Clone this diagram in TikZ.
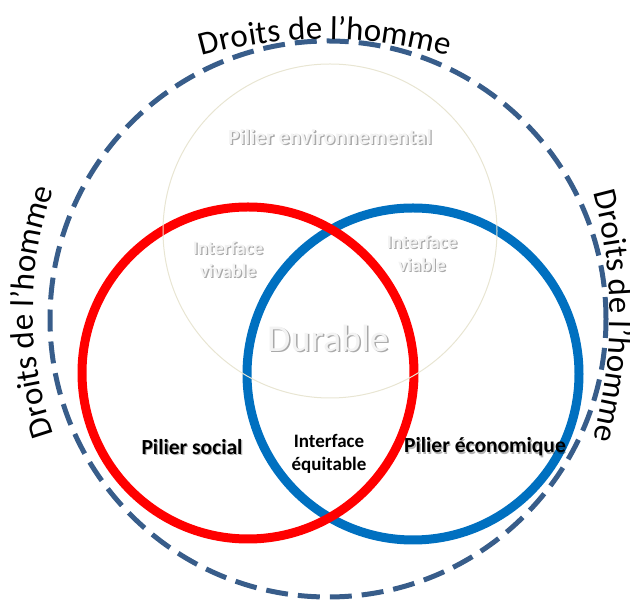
\documentclass[tikz,border=0pt]{standalone}
\usepackage{fontspec}
\setmainfont{Carlito}
\usetikzlibrary{decorations.text}
\definecolor{dashblue}{RGB}{56,93,138}
\definecolor{vred}{RGB}{255,0,0}
\definecolor{vblue}{RGB}{0,112,192}
\definecolor{faintline}{RGB}{232,229,210}
\definecolor{ghost}{RGB}{243,243,243}
\definecolor{ghostshade}{RGB}{140,140,140}
\begin{document}
\begin{tikzpicture}[x=1pt,y=1pt,
  ring/.style={line width=9pt},
  pillar/.style={font=\bfseries\fontsize{21.5}{23}\selectfont, align=center, inner sep=0pt},
  iface/.style={font=\bfseries\fontsize{19}{22.5}\selectfont, align=center, inner sep=0pt},
  ghosttxt/.style={text=ghost},
  ghostshadow/.style={text=ghostshade, opacity=0.75},
  blackshadow/.style={text=black, opacity=0.3},
  arch/.style={decorate, decoration={text along path, text align=center,
     text={|\fontsize{33}{40}\selectfont|Droits de l’homme}}}
]
\useasboundingbox (0,0) rectangle (630,602);
% rings
\draw[ring, vblue] (413,228) circle[radius=166pt];
\draw[ring, vred] (248,229) circle[radius=166pt];
\draw[line width=1pt, faintline] (330,371) circle[radius=167pt];
\draw[line width=5pt, dashblue, dash pattern=on 22pt off 10pt] (328,283) circle[radius=278pt];
% arched labels
\path[arch] (325,109) ++(110:454pt) arc[start angle=110, end angle=70, radius=454pt];
\path[arch] (403,290) ++(205:370pt) arc[start angle=205, end angle=155, radius=370pt];
\path[arch] (150,286) ++(20:460pt) arc[start angle=20, end angle=-20, radius=460pt];
% ghost labels
\node[pillar, ghostshadow] (envS) at (331.3,463.7) {Pilier environnemental};
\node[pillar, ghosttxt] (env) at (330,465) {Pilier environnemental};
\node[iface, ghostshadow] (vivS) at (229.2,341.3) {Interface\\vivable};
\node[iface, ghosttxt] (viv) at (228,342.5) {Interface\\vivable};
\node[iface, ghostshadow] (viaS) at (423.2,347.3) {Interface\\viable};
\node[iface, ghosttxt] (via) at (422,348.5) {Interface\\viable};
\node[font=\fontsize{38}{40}\selectfont, inner sep=0pt, ghostshadow] (durS) at (329.5,262.5) {Durable};
\node[font=\fontsize{38}{40}\selectfont, inner sep=0pt, ghosttxt] (dur) at (328,264) {Durable};
% black labels
\node[pillar, blackshadow] (socS) at (193.2,153.8) {Pilier social};
\node[pillar] (soc) at (192,155) {Pilier social};
\node[pillar, blackshadow] (ecoS) at (486.2,153.8) {Pilier économique};
\node[pillar] (eco) at (485,155) {Pilier économique};
\node[iface] (equ) at (329,148) {Interface\\équitable};
\end{tikzpicture}
\end{document}
